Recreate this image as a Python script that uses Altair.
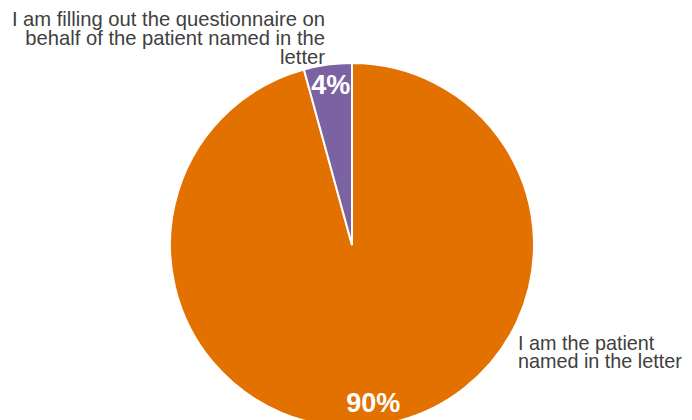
import altair as alt
import pandas as pd

categories = [
    "I am the patient named in the letter",
    "I am filling out the questionnaire on behalf of the patient named in the letter",
]
values = [90, 4]
pct_labels = ["90%", "4%"]
colors = ["#E37100", "#7B62A3"]
outer_labels = [
    "I am the patient\nnamed in the letter",
    "I am filling out the questionnaire on\nbehalf of the patient named in the\nletter",
]

df = pd.DataFrame({
    "category": categories,
    "value": values,
    "pct": pct_labels,
    "order": list(range(len(categories))),
})

FONT = "Liberation Sans"
CX, CY, R = 344, 237, 182

base = alt.Chart(df).encode(
    theta=alt.Theta("value:Q", stack=True),
    order=alt.Order("order:Q"),
)

arcs = base.mark_arc(radius=R, stroke="white", strokeWidth=2).encode(
    color=alt.Color("category:N", scale=alt.Scale(domain=categories, range=colors), legend=None),
    x=alt.value(CX),
    y=alt.value(CY),
)

pcts = base.mark_text(radius=160, fontSize=27, fontWeight="bold", color="white", font=FONT).encode(
    text="pct:N",
    x=alt.value(CX),
    y=alt.value(CY),
)

lab_left = alt.Chart(pd.DataFrame({"t": [outer_labels[1]]})).mark_text(
    align="right", baseline="alphabetic", fontSize=20.2, lineHeight=19.3,
    lineBreak="\n", color="#404040", font=FONT,
).encode(text="t:N", x=alt.value(317), y=alt.value(17.5))

lab_right = alt.Chart(pd.DataFrame({"t": [outer_labels[0]]})).mark_text(
    align="left", baseline="alphabetic", fontSize=19.8, lineHeight=18.8,
    lineBreak="\n", color="#404040", font=FONT,
).encode(text="t:N", x=alt.value(510), y=alt.value(341.5))

chart = alt.layer(arcs, pcts, lab_left, lab_right).properties(
    width=676, height=412, padding=0,
    autosize=alt.AutoSizeParams(type="none"),
).configure_view(stroke=None)

chart.save("out.html", embed_options={"renderer": "svg", "actions": False})
